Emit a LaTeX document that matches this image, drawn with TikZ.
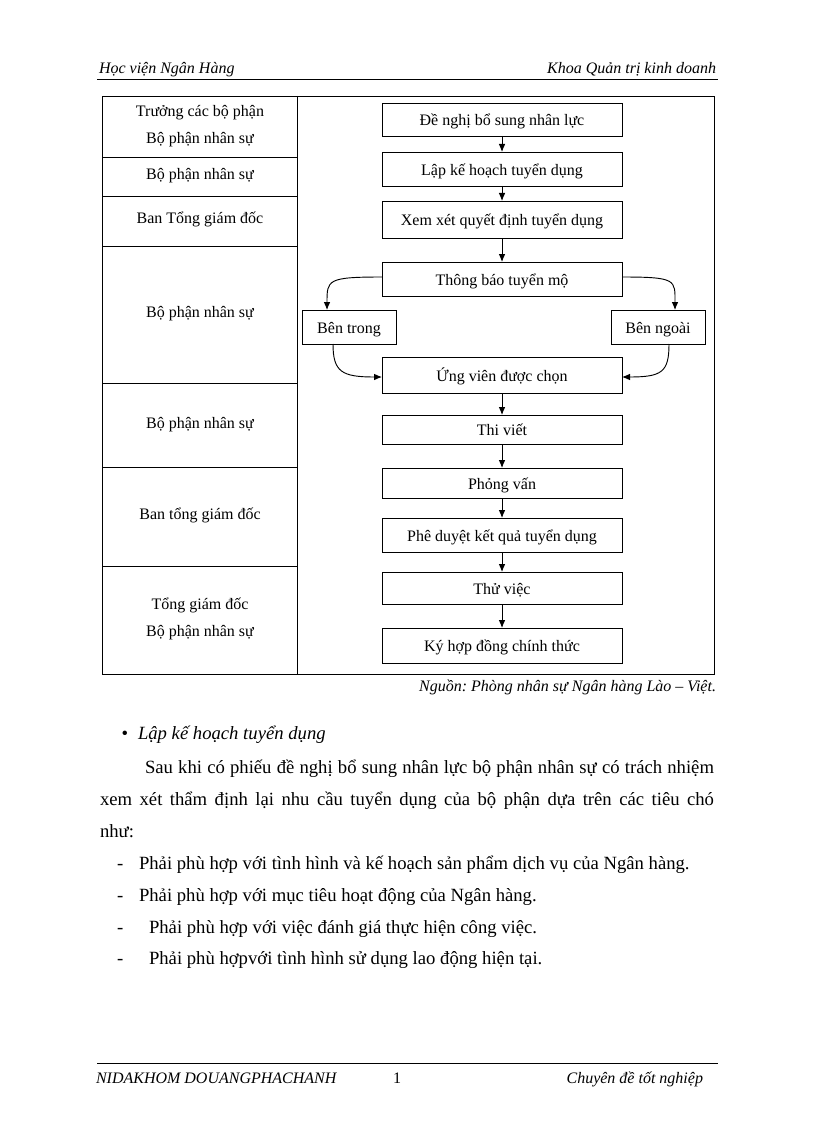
\documentclass[tikz,border=0pt]{standalone}
\usepackage{fontspec}
\setmainfont{Liberation Serif}
\usetikzlibrary{positioning}
\usetikzlibrary{arrows.meta}
\frenchspacing

\begin{document}
\begin{tikzpicture}[x=0.75pt,y=-0.75pt,line width=0.7pt,
  every node/.style={inner sep=0pt,outer sep=0pt,text height=2ex,text depth=0pt},
  flowbox/.style={draw=black,line width=0.7pt,minimum width=180pt,font=\fontsize{12}{14}\selectfont},
  lanetext/.style={font=\fontsize{12}{14}\selectfont},
  pagetext/.style={anchor=west,font=\fontsize{14}{16}\selectfont},
  margintext/.style={font=\fontsize{12}{14}\selectfont\itshape},
  flowarrow/.style={-{Latex[length=6pt,width=5pt]}}]
  \useasboundingbox (0,0) rectangle (816,1123);
  \fill[white] (0,0) rectangle (816,1123);
  \node[margintext,anchor=west] (school) at (99,67) {Học viện Ngân Hàng};
  \node[margintext,anchor=east] (faculty) at (716,67) {Khoa Quản trị kinh doanh};
  \draw (97,79) -- (718,79);
  \draw (102,96) rectangle (714,674);
  \draw (297,96) -- (297,674);
  \foreach \y in {157,196,246,383,467,566}
    \draw (102,\y) -- (297,\y);
  \node[lanetext] (lane1a) at (200,110) {Trưởng các bộ phận};
  \node[lanetext] (lane1b) at (200,137) {Bộ phận nhân sự};
  \node[lanetext] (lane2) at (200,173) {Bộ phận nhân sự};
  \node[lanetext] (lane3) at (200,217) {Ban Tổng giám đốc};
  \node[lanetext] (lane4) at (200,311) {Bộ phận nhân sự};
  \node[lanetext] (lane5) at (200,422) {Bộ phận nhân sự};
  \node[lanetext] (lane6) at (200,513) {Ban tổng giám đốc};
  \node[lanetext] (lane7a) at (200,603) {Tổng giám đốc};
  \node[lanetext] (lane7b) at (200,630) {Bộ phận nhân sự};
  \node[flowbox,minimum height=24.75pt] (propose) at (502,119.5) {Đề nghị bổ sung nhân lực};
  \node[flowbox,minimum height=25.5pt,below=12pt of propose] (plan) {Lập kế hoạch tuyển dụng};
  \node[flowbox,minimum height=27.75pt,below=11.25pt of plan] (review) {Xem xét quyết định tuyển dụng};
  \node[flowbox,minimum height=25.5pt,below=18pt of review] (notice) {Thông báo tuyển mộ};
  \node[flowbox,minimum height=27pt,below=45.75pt of notice] (chosen) {Ứng viên được chọn};
  \node[flowbox,minimum height=21.75pt,below=16.5pt of chosen] (written) {Thi viết};
  \node[flowbox,minimum height=22.5pt,below=18pt of written] (interview) {Phỏng vấn};
  \node[flowbox,minimum height=25.5pt,below=15pt of interview] (approval) {Phê duyệt kết quả tuyển dụng};
  \node[flowbox,minimum height=24pt,below=15pt of approval] (trial) {Thử việc};
  \node[flowbox,minimum height=26.25pt,below=18pt of trial] (contract) {Ký hợp đồng chính thức};
  \node[flowbox,minimum width=70.5pt,minimum height=25.5pt] (inside) at (349,327) {Bên trong};
  \node[flowbox,minimum width=70.5pt,minimum height=25.5pt] (outside) at (658,327) {Bên ngoài};
  \draw[flowarrow] (propose) -- (plan);
  \draw[flowarrow] (plan) -- (review);
  \draw[flowarrow] (review) -- (notice);
  \draw[flowarrow] ([yshift=1.5pt]notice.west) .. controls +(-55,0) and +(0,-30) .. ([xshift=-16.5pt]inside.north);
  \draw[flowarrow] ([yshift=1.5pt]notice.east) .. controls +(55,0) and +(0,-30) .. ([xshift=12.75pt]outside.north);
  \draw[flowarrow] ([xshift=-12pt]inside.south) .. controls +(0,28) and +(-40,0) .. ([yshift=-1.5pt]chosen.west);
  \draw[flowarrow] ([xshift=8.25pt]outside.south) .. controls +(0,28) and +(40,0) .. ([yshift=-1.5pt]chosen.east);
  \draw[flowarrow] (chosen) -- (written);
  \draw[flowarrow] (written) -- (interview);
  \draw[flowarrow] (interview) -- (approval);
  \draw[flowarrow] (approval) -- (trial);
  \draw[flowarrow] (trial) -- (contract);
  \node[margintext,anchor=east] (source) at (716,685) {Nguồn: Phòng nhân sự Ngân hàng Lào – Việt.};
  \node[font=\fontsize{14}{16}\selectfont] (bullet) at (125,733) {\textbullet};
  \node[pagetext,font=\fontsize{14}{16}\selectfont\itshape] (heading) at (138,733) {Lập kế hoạch tuyển dụng};
  \node[pagetext] (para1) at (145,767) {\makebox[426.75pt][s]{Sau khi có phiếu đề nghị bổ sung nhân lực bộ phận nhân sự có trách nhiệm}};
  \node[pagetext] (para2) at (100,799) {\makebox[460.5pt][s]{xem xét thẩm định lại nhu cầu tuyển dụng của bộ phận dựa trên các tiêu chó}};
  \node[pagetext] (para3) at (100,831) {như:};
  \node[pagetext] (dash1) at (117,863) {-};
  \node[pagetext] (item1) at (139,863) {Phải phù hợp với tình hình và kế hoạch sản phẩm dịch vụ của Ngân hàng.};
  \node[pagetext] (dash2) at (117,895) {-};
  \node[pagetext] (item2) at (139,895) {Phải phù hợp với mục tiêu hoạt động của Ngân hàng.};
  \node[pagetext] (dash3) at (117,927) {-};
  \node[pagetext] (item3) at (149,927) {Phải phù hợp với việc đánh giá thực hiện công việc.};
  \node[pagetext] (dash4) at (117,958) {-};
  \node[pagetext] (item4) at (149,958) {Phải phù hợpvới tình hình sử dụng lao động hiện tại.};
  \draw (97,1063) -- (718,1063);
  \node[margintext,anchor=west] (author) at (96,1077) {NIDAKHOM DOUANGPHACHANH};
  \node[lanetext] (pageno) at (397,1077) {1};
  \node[margintext,anchor=east] (thesis) at (703,1077) {Chuyên đề tốt nghiệp};
\end{tikzpicture}
\end{document}
